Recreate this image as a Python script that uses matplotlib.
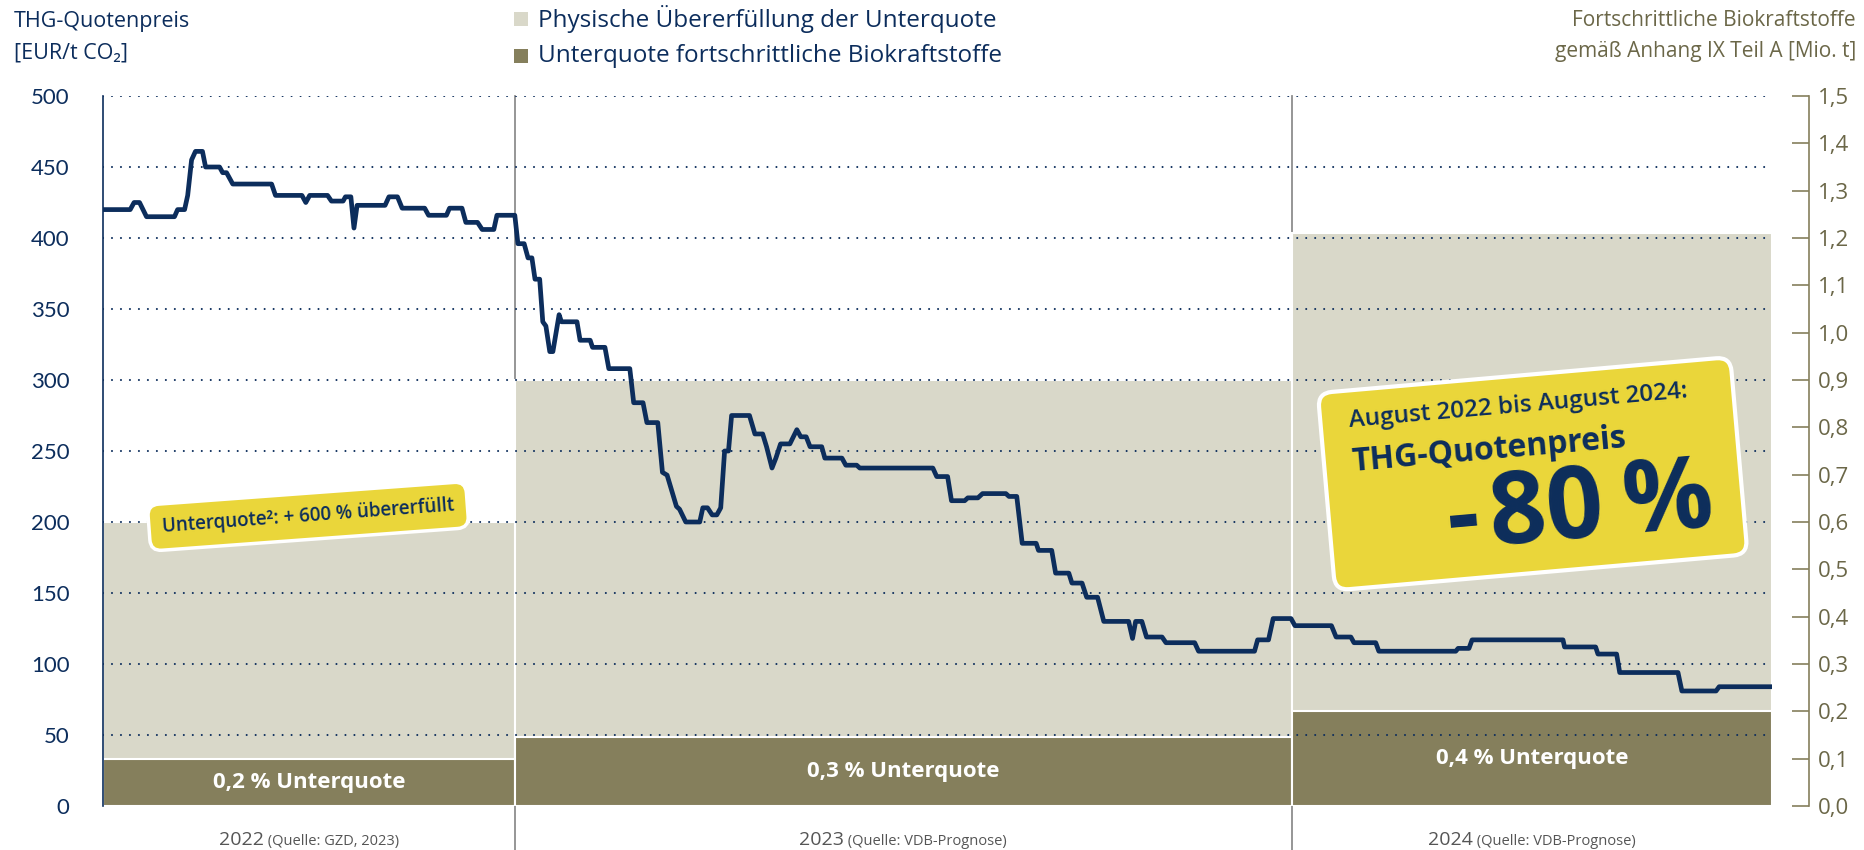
import matplotlib
matplotlib.use("Agg")
import matplotlib.pyplot as plt
from matplotlib.patches import FancyBboxPatch, Rectangle
from matplotlib.transforms import Affine2D
from matplotlib.ticker import FuncFormatter, MultipleLocator

# --- data -----------------------------------------------------------------
# THG-Quotenpreis (EUR/t CO2), time as fractional year
price_time = [
    2022.470, 2022.505, 2022.510, 2022.517, 2022.526, 2022.562, 2022.566, 2022.575,
    2022.579, 2022.584, 2022.589, 2022.598, 2022.602, 2022.620, 2022.624, 2022.629,
    2022.637, 2022.687, 2022.692, 2022.726, 2022.731, 2022.736, 2022.759, 2022.764,
    2022.779, 2022.782, 2022.789, 2022.793, 2022.797, 2022.833, 2022.838, 2022.849,
    2022.855, 2022.884, 2022.889, 2022.912, 2022.916, 2022.932, 2022.937, 2022.952,
    2022.958, 2022.973, 2022.977, 2023.000,
    2023.004, 2023.012, 2023.017, 2023.022, 2023.026, 2023.032, 2023.036, 2023.040,
    2023.045, 2023.049, 2023.057, 2023.060, 2023.080, 2023.084, 2023.097, 2023.100,
    2023.116, 2023.121, 2023.148, 2023.153, 2023.165, 2023.170, 2023.184, 2023.190,
    2023.196, 2023.208, 2023.212, 2023.220, 2023.238, 2023.242, 2023.248, 2023.254,
    2023.260, 2023.265, 2023.270, 2023.275, 2023.279, 2023.302, 2023.309, 2023.319,
    2023.324, 2023.331, 2023.336, 2023.342, 2023.354, 2023.363, 2023.368, 2023.375,
    2023.380, 2023.395, 2023.399, 2023.421, 2023.426, 2023.440, 2023.444, 2023.538,
    2023.543, 2023.557, 2023.562, 2023.579, 2023.583, 2023.596, 2023.602, 2023.632,
    2023.636, 2023.646, 2023.653, 2023.671, 2023.674, 2023.691, 2023.696, 2023.713,
    2023.717, 2023.730, 2023.736, 2023.750, 2023.758, 2023.790, 2023.795, 2023.799,
    2023.807, 2023.813, 2023.833, 2023.838, 2023.875, 2023.880, 2023.952, 2023.956,
    2023.970, 2023.976, 2023.999,
    2024.004, 2024.051, 2024.057, 2024.076, 2024.080, 2024.108, 2024.112, 2024.211,
    2024.214, 2024.228, 2024.232, 2024.349, 2024.351, 2024.391, 2024.394, 2024.418,
    2024.422, 2024.497, 2024.502, 2024.546, 2024.550, 2024.618,
]
price_value = [
    420, 420, 425, 425, 415, 415, 420, 420,
    430, 455, 461, 461, 450, 450, 446, 446,
    438, 438, 430, 430, 425, 430, 430, 426,
    426, 429, 429, 407, 423, 423, 429, 429,
    421, 421, 416, 416, 421, 421, 411, 411,
    406, 406, 416, 416,
    396, 396, 386, 386, 371, 371, 341, 338,
    320, 320, 346, 341, 341, 328, 328, 323,
    323, 308, 308, 284, 284, 270, 270, 235,
    233, 211, 209, 200, 200, 210, 210, 205,
    205, 210, 250, 250, 275, 275, 262, 262,
    253, 238, 245, 255, 255, 265, 260, 260,
    253, 253, 245, 245, 240, 240, 238, 238,
    232, 232, 215, 215, 217, 217, 220, 220,
    218, 218, 185, 185, 180, 180, 164, 164,
    157, 157, 147, 147, 130, 130, 118, 130,
    130, 119, 119, 115, 115, 109, 109, 117,
    117, 132, 132,
    127, 127, 119, 119, 115, 115, 109, 109,
    111, 111, 117, 117, 112, 112, 107, 107,
    94, 94, 81, 81, 84, 84,
]

years = ["2022", "2023", "2024"]
sources = ["(Quelle: GZD, 2023)", "(Quelle: VDB-Prognose)", "(Quelle: VDB-Prognose)"]
year_start = [2022.470, 2023.0, 2024.0]
year_end = [2023.0, 2024.0, 2024.618]
# fortschrittliche Biokraftstoffe [Mio. t]
physisch_gesamt = [0.60, 0.90, 1.21]
unterquote_menge = [0.10, 0.145, 0.20]
unterquote_text = ["0,2 % Unterquote", "0,3 % Unterquote", "0,4 % Unterquote"]

# --- style ----------------------------------------------------------------
NAVY = "#0c2d5c"
LIGHT = "#d9d8c9"
OLIVE = "#857f5c"
OLIVE_TXT = "#6b6748"
YELLOW = "#ead63a"
GREY = "#555555"
FONT = ["Open Sans", "DejaVu Sans"]

plt.rcParams["font.family"] = FONT

W, H = 1865, 850
fig = plt.figure(figsize=(W / 100, H / 100), dpi=100)
x0, x1, y_top, y_bot = 103, 1772, 96, 806
ax = fig.add_axes([x0 / W, (H - y_bot) / H, (x1 - x0) / W, (y_bot - y_top) / H])
ax2 = ax.twinx()
ax.set_zorder(ax2.get_zorder() + 1)
ax.patch.set_visible(False)

ax.set_xlim(year_start[0], year_end[-1])
ax.set_ylim(0, 500)
ax2.set_ylim(0, 1.5)

# bars on the right axis
for i in range(len(years)):
    w = year_end[i] - year_start[i]
    ax2.bar(year_start[i], physisch_gesamt[i], width=w, align="edge",
            color=LIGHT, edgecolor="white", linewidth=1.5, zorder=2)
    ax2.bar(year_start[i], unterquote_menge[i], width=w, align="edge",
            color=OLIVE, edgecolor="white", linewidth=1.5, zorder=3)
    ax2.text(year_start[i] + w / 2, unterquote_menge[i] / 2, unterquote_text[i],
             ha="center", va="center", color="white", fontsize=16,
             fontweight="bold", zorder=4)

# year separators
for xs in year_start[1:]:
    ax2.axvline(xs, ymin=-0.07, ymax=1, color="#8e8e8e", lw=1.3,
                clip_on=False, zorder=1)

# grid (dotted)
ax.set_yticks(range(0, 501, 50))
for v in range(50, 501, 50):
    ax.axhline(v, color=NAVY, lw=1.5, linestyle=(0, (0.01, 4.3)),
               dash_capstyle="round", zorder=3)

# price line
ax.plot(price_time, price_value, color=NAVY, lw=3.4, solid_joinstyle="round",
        zorder=5)

# axes styling
for s in ["top", "right", "bottom"]:
    ax.spines[s].set_visible(False)
ax.spines["left"].set_color(NAVY)
ax.spines["left"].set_linewidth(1.2)
ax.set_xticks([])
ax.tick_params(axis="y", length=0, pad=24, labelsize=16, labelcolor=NAVY)
for lab in ax.get_yticklabels():
    lab.set_fontfamily(["Lato", "DejaVu Sans"])

for s in ["top", "left", "bottom"]:
    ax2.spines[s].set_visible(False)
ax2.spines["right"].set_position(("outward", 27))
ax2.spines["right"].set_color(OLIVE)
ax2.spines["right"].set_linewidth(1.2)
ax2.yaxis.set_major_locator(MultipleLocator(0.1))
ax2.yaxis.set_major_formatter(FuncFormatter(lambda v, p: f"{v:.1f}".replace(".", ",")))
ax2.tick_params(axis="y", direction="in", length=12, width=1.2, color=OLIVE,
                pad=6, labelsize=16, labelcolor=OLIVE_TXT)
ax2.set_xticks([])

# titles
fig.text(14 / W, 1 - 22 / H, "THG-Quotenpreis", ha="left", va="center",
         fontsize=15.5, color=NAVY)
fig.text(14 / W, 1 - 53 / H, "[EUR/t CO₂]", ha="left", va="center",
         fontsize=15.5, color=NAVY)
fig.text(1856 / W, 1 - 21 / H, "Fortschrittliche Biokraftstoffe", ha="right",
         va="center", fontsize=15, color=OLIVE_TXT)
fig.text(1856 / W, 1 - 52 / H, "gemäß Anhang IX Teil A [Mio. t]", ha="right",
         va="center", fontsize=15, color=OLIVE_TXT)

# legend
legend_items = [("Physische Übererfüllung der Unterquote", LIGHT),
                ("Unterquote fortschrittliche Biokraftstoffe", OLIVE)]
for k, (txt, col) in enumerate(legend_items):
    yc = 19 + 37 * k
    fig.add_artist(Rectangle((514 / W, 1 - (yc + 7) / H), 14 / W, 14 / H,
                             transform=fig.transFigure, color=col, lw=0))
    fig.text(538 / W, 1 - yc / H, txt, ha="left", va="center", fontsize=17.5,
             color=NAVY)

# year labels below the axis
year_parts = []
for i in range(len(years)):
    xc = (year_start[i] + year_end[i]) / 2
    t1 = ax.annotate(years[i], xy=(xc, 0), xycoords=("data", "axes fraction"),
                     xytext=(0, -28), textcoords="offset points", ha="left",
                     va="baseline", fontsize=14, color=GREY, annotation_clip=False)
    t2 = ax.annotate(" " + sources[i], xy=(xc, 0), xycoords=("data", "axes fraction"),
                     xytext=(0, -28), textcoords="offset points", ha="left",
                     va="baseline", fontsize=10.5, color=GREY, annotation_clip=False)
    year_parts.append((t1, t2))

fig.canvas.draw()
r = fig.canvas.get_renderer()
for t1, t2 in year_parts:
    w1 = t1.get_window_extent(r).width * 72 / fig.dpi
    w2 = t2.get_window_extent(r).width * 72 / fig.dpi
    t1.xyann = (-(w1 + w2) / 2, -28)
    t2.xyann = (-(w1 + w2) / 2 + w1, -28)

# small yellow note
ax.text(2022.734, 204, "Unterquote²: + 600 % übererfüllt", rotation=4.2,
        rotation_mode="anchor", ha="center", va="center", fontsize=13.5,
        color=NAVY, fontweight="semibold", zorder=8,
        bbox=dict(boxstyle="round,pad=0.7,rounding_size=0.6", fc=YELLOW,
                  ec="white", lw=2.5))

# big yellow callout
cx, cy = ax.transData.transform((2024.31, 234))
rot = Affine2D().rotate_deg(5).translate(cx, cy)
ax.add_patch(FancyBboxPatch((-207, -99), 414, 198,
                            boxstyle="round,pad=0,rounding_size=14",
                            transform=rot, fc=YELLOW, ec="white", lw=3,
                            zorder=9, clip_on=False))
ax.text(-178, 62, "August 2022 bis August 2024:", transform=rot, rotation=5,
        rotation_mode="anchor", ha="left", va="baseline", fontsize=17.5,
        fontweight="semibold", color=NAVY, zorder=10)
ax.text(-179, 18, "THG-Quotenpreis", transform=rot, rotation=5,
        rotation_mode="anchor", ha="left", va="baseline", fontsize=23,
        fontweight="bold", color=NAVY, zorder=10)
ax.text(178, -68, "-\u200a80\u2009%", transform=rot, rotation=5, rotation_mode="anchor",
        ha="right", va="baseline", fontsize=72, fontweight="bold",
        color=NAVY, zorder=10)

fig.savefig("out.png", dpi=100)
